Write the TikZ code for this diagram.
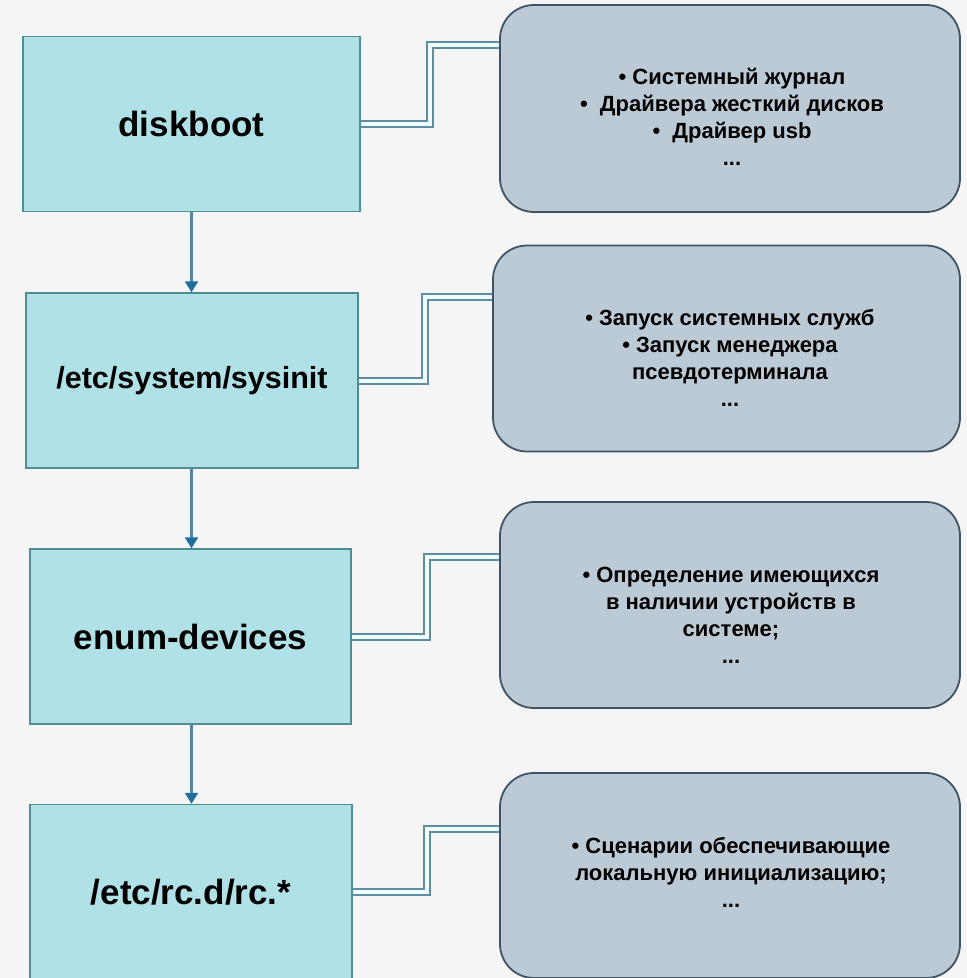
\documentclass[tikz,border=0pt]{standalone}
\usepackage{fontspec}
\setmainfont{Liberation Sans}
\usetikzlibrary{arrows.meta}
\definecolor{bg}{HTML}{F5F5F5}
\definecolor{leftfill}{HTML}{B0E1E6}
\definecolor{leftline}{HTML}{4F8C96}
\definecolor{rightfill}{HTML}{BCCAD6}
\definecolor{rightline}{HTML}{3E5466}
\definecolor{connline}{HTML}{5F8EA3}
\definecolor{connin}{HTML}{F0FBFE}
\definecolor{arrline}{HTML}{5A8599}
\definecolor{arrtip}{HTML}{1E6E9E}
\tikzset{
  stagebox/.style={draw=leftline, line width=1.5pt, fill=leftfill, minimum width=#1, minimum height=175pt, inner sep=0pt, font=\bfseries\fontsize{35}{40}\selectfont},
  infobox/.style={draw=rightline, line width=1.8pt, fill=rightfill, rounded corners=34pt, minimum width=#1, minimum height=206pt, inner sep=0pt},
  infotext/.style={align=center, inner sep=0pt, font=\bfseries\fontsize{22}{27}\selectfont},
  conn/.style={draw=connline, line width=2pt, double=connin, double distance=4pt},
  flow/.style={draw=arrline, line width=2.2pt, -{Triangle[width=13pt,length=11pt,fill=arrtip,color=arrtip]}}
}
\begin{document}
\begin{tikzpicture}[x=1pt,y=-1pt]
\fill[bg] (0,0) rectangle (967,978);
\useasboundingbox (0,0) rectangle (967,978);
\clip (0,0) rectangle (967,978);

% left stage boxes
\node[stagebox=337pt] (l1) at (191.5,124) {diskboot};
\node[stagebox=332pt, font=\bfseries\fontsize{30.5}{36}\selectfont] (l2) at (192,380.5) {/etc/system/sysinit};
\node[stagebox=321pt] (l3) at (190.5,636.5) {enum-devices};
\node[stagebox=322pt] (l4) at (191,892) {/etc/rc.d/rc.*};

% right info boxes
\node[infobox=460pt, minimum height=207pt] (r1) at (730,108.5) {};
\node[infobox=467pt] (r2) at (726.5,348.5) {};
\node[infobox=460pt] (r3) at (730,605) {};
\node[infobox=460pt, minimum height=205pt] (r4) at (730,875.5) {};

\node[infotext] (t1) at (732,117) {• Системный журнал\\•\ \ Драйвера жесткий дисков\\•\ \ Драйвер usb\\...};
\node[infotext] (t2) at (730,358) {• Запуск системных служб\\• Запуск менеджера\\псевдотерминала\\...};
\node[infotext] (t3) at (731,615) {• Определение имеющихся\\в наличии устройств в\\системе;\\...};
\node[infotext] (t4) at (731,872) {• Сценарии обеспечивающие\\локальную инициализацию;\\...};

% connectors
\coordinate (k1) at (430,45);
\coordinate (k2) at (425,297);
\coordinate (k3) at (427,557);
\coordinate (k4) at (427,829);
\draw[conn] (l1.east) -| (k1) -- (k1 -| r1.west);
\draw[conn] (l2.east) -| (k2) -- (k2 -| r2.west);
\draw[conn] (l3.east) -| (k3) -- (k3 -| r3.west);
\draw[conn] (l4.east) -| (k4) -- (k4 -| r4.west);

% flow arrows
\draw[flow] (l1.south) -- (l1.south |- l2.north);
\draw[flow] (l2.south -| l1.south) -- (l1.south |- l3.north);
\draw[flow] (l3.south -| l1.south) -- (l1.south |- l4.north);
\end{tikzpicture}
\end{document}
